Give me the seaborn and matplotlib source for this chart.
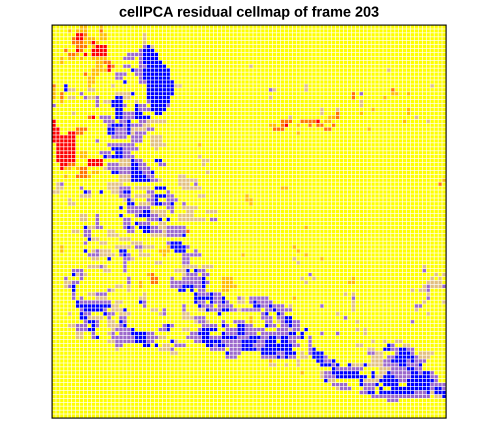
import numpy as np
import pandas as pd
import seaborn as sns
import matplotlib.pyplot as plt
from matplotlib.colors import ListedColormap

# (row, first col, last col) of flagged cells, everything else is level 0
red_runs = [
    (2, 6, 7), (3, 6, 7), (4, 10, 10), (5, 11, 13), (6, 6, 6), (6, 10, 13), (7, 8, 8), (7, 10, 13), (10, 14, 14), (11, 14, 14),
    (23, 10, 10), (24, 0, 0), (25, 0, 0), (26, 0, 1), (27, 0, 1), (27, 4, 5), (28, 0, 5), (29, 0, 5), (30, 1, 5),
    (31, 1, 5), (32, 1, 5), (33, 1, 5), (34, 1, 5), (34, 9, 12), (35, 2, 3), (35, 9, 12), (36, 2, 2),
    (24, 67, 67), (25, 59, 59),
]
orange_runs = [
    (1, 12, 12), (2, 8, 8), (3, 5, 5), (4, 5, 7), (5, 6, 8), (6, 3, 3), (6, 7, 7), (7, 4, 5), (9, 13, 14), (10, 15, 15),
    (12, 8, 8), (23, 9, 9), (26, 6, 8), (27, 6, 7), (35, 4, 5), (36, 7, 8), (37, 7, 8), (38, 6, 8),
    (17, 2, 2), (18, 2, 2), (15, 0, 0),
    (52, 34, 34), (64, 25, 26), (63, 25, 25), (65, 25, 26),
    (17, 76, 76), (18, 76, 76), (16, 86, 86), (24, 58, 60), (25, 58, 58), (26, 56, 58), (24, 63, 66), (25, 65, 65),
    (25, 67, 68), (26, 69, 70), (25, 71, 71), (22, 72, 72), (23, 72, 72), (40, 98, 98),
]
light_runs = [
    (0, 7, 8), (0, 12, 12), (1, 4, 4), (1, 6, 8), (2, 12, 13), (3, 8, 10), (3, 12, 13), (4, 8, 9), (4, 11, 11), (5, 10, 10),
    (7, 6, 6), (8, 4, 5), (8, 7, 7), (8, 10, 13), (9, 11, 12), (10, 11, 12), (11, 10, 13), (12, 10, 11), (13, 9, 10),
    (14, 9, 10), (15, 9, 9), (8, 2, 2), (9, 2, 2), (16, 0, 0), (17, 0, 0), (18, 0, 0), (19, 2, 2),
    (32, 7, 8), (33, 7, 8), (36, 3, 4), (36, 6, 6), (37, 10, 11), (38, 3, 3), (38, 9, 9), (30, 37, 37), (44, 49, 49),
    (56, 2, 2), (57, 2, 2), (56, 29, 30), (57, 27, 29), (58, 28, 28), (62, 36, 36),
    (63, 24, 24), (65, 22, 22), (66, 22, 22), (65, 43, 45), (66, 43, 46), (64, 43, 45), (67, 43, 44),
    (22, 78, 78), (21, 81, 81), (18, 84, 84), (17, 86, 87), (17, 90, 90), (21, 90, 90), (22, 90, 90), (24, 89, 89),
    (25, 55, 56), (25, 62, 62), (27, 62, 62), (24, 69, 70), (23, 70, 71), (26, 80, 80), (41, 58, 59), (43, 49, 49),
    (44, 50, 50), (45, 50, 50), (39, 99, 99), (51, 64, 64), (56, 61, 61), (57, 62, 62), (58, 64, 64), (58, 48, 48),
    (59, 68, 68), (65, 75, 75), (64, 76, 76), (65, 76, 76), (69, 61, 61),
    (74, 50, 50), (75, 50, 50), (85, 55, 55), (88, 63, 63), (69, 47, 47),
]
tan_runs = [
    (2, 23, 23), (3, 23, 23), (4, 23, 23), (5, 24, 25), (15, 31, 32), (15, 15, 15), (16, 4, 5), (16, 9, 10),
    (17, 16, 19), (18, 4, 5), (18, 9, 10), (18, 17, 19), (19, 13, 14), (19, 21, 21), (21, 26, 27), (22, 5, 5),
    (24, 24, 28), (25, 21, 24), (26, 17, 23), (27, 17, 20), (28, 25, 27), (29, 25, 27), (30, 25, 28), (31, 26, 26),
    (33, 37, 37), (34, 17, 19), (34, 38, 39), (35, 17, 19), (35, 38, 38), (36, 13, 14), (36, 23, 24), (37, 39, 39),
    (38, 17, 19), (38, 32, 33), (39, 17, 19), (39, 25, 27), (39, 32, 36), (40, 1, 1), (40, 14, 17), (40, 32, 34),
    (41, 1, 2), (41, 14, 16), (41, 21, 24), (41, 33, 37), (42, 0, 1), (42, 15, 16), (43, 7, 9), (43, 21, 24),
    (43, 37, 38), (44, 4, 4), (44, 18, 20), (45, 4, 5), (45, 22, 24), (46, 21, 24), (46, 33, 36), (47, 25, 28),
    (47, 34, 35), (47, 39, 41), (48, 7, 8), (48, 25, 28), (48, 32, 35), (49, 7, 8), (49, 32, 38),
    (10, 50, 50), (11, 85, 85), (16, 56, 56), (18, 55, 55), (15, 64, 64), (16, 64, 64), (19, 78, 78), (20, 78, 78),
    (23, 92, 92), (24, 95, 95), (15, 96, 96), (23, 60, 60), (21, 72, 72), (21, 68, 68), (22, 68, 68),
    (50, 27, 28), (51, 9, 10), (51, 25, 28), (52, 5, 6), (52, 14, 15), (52, 26, 28), (53, 8, 9), (53, 14, 16), (53, 25, 30),
    (54, 9, 11), (54, 17, 19), (55, 12, 13), (55, 20, 22), (56, 16, 19), (56, 23, 25), (57, 10, 14), (57, 22, 22),
    (58, 12, 15), (58, 22, 24), (59, 10, 11), (59, 19, 20), (60, 26, 27), (61, 9, 13), (61, 33, 36), (61, 38, 40),
    (62, 13, 14), (62, 31, 33), (63, 6, 8), (63, 33, 35), (64, 3, 3), (65, 3, 6), (66, 3, 3), (66, 16, 17), (66, 19, 19),
    (67, 19, 19), (67, 14, 15), (68, 9, 12), (68, 23, 23), (69, 11, 13), (69, 22, 23), (70, 16, 17), (70, 23, 23),
    (71, 15, 16), (71, 44, 45), (72, 15, 17), (72, 37, 38), (72, 25, 26), (73, 4, 4), (73, 17, 19), (73, 27, 27),
    (73, 33, 34), (74, 9, 12), (74, 33, 35), (75, 14, 15), (75, 36, 39), (76, 14, 17), (76, 4, 5), (77, 15, 15),
    (77, 33, 34), (78, 14, 15), (78, 6, 7), (79, 6, 7), (79, 26, 28), (80, 14, 15), (80, 30, 31), (81, 28, 29),
    (82, 16, 16), (82, 27, 29), (83, 30, 31),
    (69, 48, 48), (70, 47, 48), (72, 47, 48), (71, 60, 60), (75, 57, 61), (76, 61, 62), (77, 60, 61),
    (80, 81, 81), (80, 84, 84), (80, 87, 88), (81, 77, 78),
    (82, 80, 81), (83, 82, 83), (84, 81, 83), (85, 81, 85), (86, 76, 78), (86, 80, 83), (87, 83, 85), (88, 83, 84),
    (89, 82, 83), (90, 79, 82), (85, 92, 94), (84, 92, 95), (83, 93, 96), (81, 89, 90), (86, 55, 56), (86, 59, 59),
    (85, 62, 62), (86, 62, 62), (84, 63, 64), (83, 63, 63), (88, 68, 68), (89, 68, 69), (91, 71, 72), (92, 72, 74),
    (90, 70, 71), (93, 95, 96), (94, 97, 98),
    (59, 61, 61), (60, 62, 62), (64, 63, 63), (64, 66, 66), (65, 64, 64), (68, 74, 74), (68, 76, 76), (70, 76, 76),
    (71, 76, 76), (72, 76, 76), (73, 72, 72), (75, 77, 77), (77, 77, 77), (77, 79, 79), (78, 79, 79), (61, 94, 94),
    (63, 97, 97), (63, 99, 99), (64, 96, 96), (64, 98, 98), (65, 95, 98), (66, 94, 94), (66, 96, 98), (67, 91, 91),
    (67, 93, 94), (68, 95, 95), (70, 94, 94), (70, 99, 99), (72, 92, 92), (73, 95, 95),
]
purple_runs = [
    (5, 23, 23), (6, 22, 22), (7, 19, 21), (7, 22, 22), (8, 18, 20), (8, 22, 22), (9, 22, 22), (10, 18, 19), (10, 22, 23),
    (11, 21, 23), (12, 16, 18), (12, 21, 22), (13, 16, 17), (13, 22, 23), (14, 22, 23), (15, 30, 30), (17, 7, 7),
    (18, 8, 8), (18, 11, 11), (19, 11, 11), (19, 24, 25), (20, 0, 0), (20, 11, 11), (20, 18, 18), (20, 22, 23),
    (20, 26, 29), (21, 22, 24), (21, 27, 27), (22, 18, 20), (23, 12, 14), (23, 18, 20), (24, 13, 15), (24, 17, 18),
    (24, 22, 23), (25, 14, 14), (25, 18, 18), (25, 20, 22), (26, 16, 18), (26, 24, 25), (27, 16, 18), (27, 21, 23),
    (28, 15, 18), (28, 20, 22), (29, 11, 11), (29, 20, 22), (30, 14, 20), (31, 18, 21), (32, 12, 14), (32, 18, 19),
    (33, 14, 14), (33, 18, 20), (34, 21, 22), (35, 14, 16), (35, 22, 23), (35, 27, 28), (36, 14, 19), (36, 22, 24),
    (37, 17, 19), (37, 23, 24), (38, 24, 25), (39, 25, 26), (40, 36, 36), (40, 2, 2), (41, 7, 7), (41, 17, 19),
    (42, 9, 9), (42, 17, 17), (42, 24, 25), (42, 29, 29), (43, 17, 19), (43, 25, 25), (43, 29, 30), (44, 29, 31),
    (44, 24, 25), (45, 25, 25), (45, 28, 29), (45, 33, 33), (46, 19, 24), (46, 29, 30), (47, 19, 22), (47, 30, 30),
    (48, 11, 11), (48, 21, 21), (48, 25, 26), (49, 11, 11), (49, 18, 19), (49, 24, 26), (49, 40, 41), (50, 18, 19),
    (50, 22, 24), (50, 11, 11), (51, 11, 12), (51, 18, 20), (51, 23, 26), (51, 29, 33), (52, 8, 9), (52, 19, 20), (52, 25, 27),
    (52, 29, 33), (53, 29, 32), (53, 8, 9), (55, 8, 8), (55, 29, 30), (56, 21, 22), (56, 34, 34), (57, 11, 11), (57, 36, 36),
    (58, 9, 11), (58, 17, 19), (58, 33, 37), (59, 18, 19), (59, 33, 34), (60, 18, 18), (60, 33, 34), (61, 12, 12),
    (61, 18, 18), (62, 5, 7), (62, 18, 18), (62, 34, 34), (62, 37, 38), (63, 7, 7), (63, 34, 36), (63, 38, 39),
    (64, 7, 7), (64, 3, 3), (64, 19, 19), (64, 30, 30), (64, 33, 38), (65, 5, 6), (65, 19, 19), (65, 30, 39),
    (66, 4, 4), (66, 30, 32), (66, 36, 37), (67, 14, 14), (67, 37, 38), (68, 5, 5), (68, 11, 13), (68, 37, 39),
    (68, 41, 42), (69, 5, 5), (69, 7, 7), (69, 40, 42), (70, 7, 14), (70, 23, 23), (70, 37, 38), (70, 41, 44),
    (71, 7, 7), (71, 23, 23), (71, 33, 33), (71, 37, 40), (71, 42, 45), (72, 7, 7), (72, 13, 13), (72, 28, 28),
    (72, 33, 33), (72, 40, 42), (72, 45, 46), (73, 8, 9), (73, 14, 15), (73, 28, 28), (74, 14, 14), (74, 17, 18),
    (74, 36, 38), (75, 8, 8), (75, 11, 11), (75, 18, 18), (75, 37, 38), (75, 43, 43), (75, 46, 48), (76, 6, 8),
    (76, 11, 11), (76, 17, 17), (76, 30, 30), (76, 28, 28), (76, 38, 41), (76, 44, 44), (76, 49, 50),
    (77, 6, 8), (77, 16, 19), (77, 27, 28), (77, 37, 37), (77, 44, 46), (77, 49, 49), (78, 10, 10), (78, 15, 15), (78, 17, 19),
    (78, 24, 25), (78, 35, 36), (78, 44, 46), (78, 49, 51), (79, 10, 10), (79, 15, 20), (79, 24, 26), (79, 34, 37),
    (79, 40, 42), (79, 47, 48), (80, 16, 20), (80, 24, 25), (80, 36, 37), (80, 43, 47), (81, 16, 17), (81, 31, 33),
    (81, 41, 41), (81, 44, 47), (82, 30, 30), (82, 40, 43), (82, 45, 47), (83, 45, 47), (84, 44, 46),
    (69, 47, 47), (69, 50, 54), (70, 50, 50), (70, 52, 55), (71, 53, 54), (71, 56, 58), (72, 48, 52), (72, 54, 55), (72, 57, 60),
    (73, 53, 54), (73, 58, 58), (74, 53, 55), (74, 57, 58), (75, 54, 55), (75, 58, 58), (75, 61, 62), (76, 48, 50),
    (76, 55, 56), (76, 58, 59), (76, 61, 62), (77, 48, 53), (77, 57, 59), (77, 61, 62), (78, 47, 49), (78, 53, 59),
    (79, 47, 49), (79, 53, 54), (79, 57, 57), (79, 60, 62), (80, 46, 47), (80, 52, 53), (80, 60, 61), (81, 46, 47), (81, 51, 53),
    (81, 61, 62), (82, 50, 50), (82, 52, 52), (83, 57, 58), (84, 53, 56), (84, 58, 58), (84, 60, 61), (79, 65, 65),
    (80, 65, 65), (81, 65, 65), (82, 65, 65), (83, 65, 65), (84, 69, 69), (85, 69, 70), (86, 71, 72), (87, 72, 78),
    (88, 69, 70), (89, 69, 71), (91, 71, 74), (92, 73, 75), (91, 79, 81), (92, 79, 81), (93, 78, 79), (94, 81, 92),
    (95, 85, 87), (93, 92, 94), (94, 93, 95), (92, 96, 96), (92, 99, 99), (91, 96, 99), (90, 97, 97), (89, 96, 97),
    (88, 93, 96), (87, 92, 93), (86, 90, 93), (85, 90, 94), (84, 85, 87), (84, 92, 92), (83, 87, 91), (83, 80, 81), (82, 85, 87), (82, 90, 91),
    (81, 86, 86), (88, 85, 90), (89, 87, 90), (90, 88, 89), (87, 86, 89), (86, 84, 87), (85, 84, 85),
    (16, 55, 55), (17, 78, 78), (63, 65, 65), (69, 76, 76), (71, 68, 68), (74, 74, 74), (78, 72, 72), (78, 68, 68),
    (62, 94, 94), (66, 95, 95), (66, 99, 99), (67, 95, 95), (69, 95, 95), (71, 92, 93), (75, 91, 91),
]
blue_runs = [
    (5, 24, 24), (6, 23, 25), (7, 23, 26), (8, 23, 26), (9, 23, 27), (10, 24, 28), (11, 23, 29), (12, 23, 29),
    (13, 23, 29), (14, 24, 30), (15, 24, 30), (16, 24, 30), (17, 24, 30), (18, 24, 29), (19, 25, 29), (20, 25, 28),
    (21, 25, 27), (22, 26, 27), (21, 28, 28), (11, 20, 20), (14, 18, 18), (15, 3, 3), (16, 3, 3), (17, 20, 20),
    (18, 16, 17), (19, 15, 17), (20, 15, 17), (21, 16, 17), (22, 16, 17), (23, 16, 17), (20, 21, 21), (21, 21, 21),
    (22, 21, 22), (23, 21, 24), (24, 19, 19), (25, 15, 17), (25, 19, 19), (26, 14, 15), (26, 19, 19), (27, 14, 15),
    (27, 19, 19), (31, 15, 17), (32, 16, 17), (33, 13, 13), (33, 15, 17), (34, 20, 20), (34, 26, 27), (35, 20, 21),
    (36, 20, 21), (37, 15, 16), (37, 20, 22), (37, 25, 25), (38, 20, 23), (39, 20, 24), (41, 26, 28), (42, 8, 8),
    (42, 12, 12), (42, 18, 19), (43, 26, 28), (44, 19, 19), (44, 26, 26), (45, 19, 20), (45, 26, 27), (45, 30, 30),
    (46, 17, 17), (47, 23, 24), (48, 17, 17), (48, 22, 24), (49, 27, 27), (49, 29, 29),
    (50, 21, 21), (51, 8, 8), (51, 19, 19), (51, 22, 24), (52, 23, 24), (53, 33, 33), (54, 9, 9), (55, 30, 32),
    (56, 30, 33), (57, 8, 8), (57, 17, 18), (57, 31, 33), (58, 18, 18), (59, 14, 14), (62, 34, 34), (62, 36, 36),
    (63, 5, 5), (64, 38, 38), (65, 38, 38), (66, 5, 5), (66, 33, 34), (66, 35, 35), (66, 38, 38), (67, 5, 5),
    (67, 32, 33), (67, 35, 35), (68, 36, 36), (68, 40, 40), (69, 36, 39), (69, 40, 40), (69, 43, 43), (70, 6, 6),
    (70, 22, 22), (70, 36, 36), (70, 40, 40), (70, 43, 43), (71, 6, 14), (71, 37, 37), (72, 8, 12), (72, 18, 18),
    (72, 39, 39), (72, 43, 44), (73, 7, 7), (73, 13, 13), (73, 42, 42), (74, 7, 8), (75, 9, 10), (75, 17, 17),
    (76, 10, 10), (76, 18, 18), (76, 29, 29), (76, 43, 43), (76, 47, 48), (77, 9, 10), (77, 20, 20), (77, 29, 29),
    (77, 38, 41), (77, 47, 48), (78, 20, 23), (78, 37, 39), (78, 43, 43), (78, 47, 48), (79, 11, 11), (79, 21, 23),
    (79, 38, 39), (79, 43, 46), (80, 21, 23), (80, 30, 30), (80, 38, 42), (80, 49, 50), (81, 23, 24), (81, 26, 26),
    (81, 39, 40), (81, 42, 43), (81, 50, 50), (82, 50, 50), (83, 44, 44),
    (70, 51, 51), (71, 51, 52), (71, 55, 55), (72, 56, 56), (73, 54, 54), (73, 57, 57), (74, 59, 60), (75, 59, 60),
    (76, 54, 54), (76, 60, 60), (78, 60, 61), (78, 63, 63), (79, 50, 52), (79, 55, 56), (79, 58, 59), (79, 63, 63),
    (77, 64, 64), (80, 48, 51), (80, 54, 56), (80, 58, 59), (81, 48, 50), (81, 54, 57), (81, 58, 60), (82, 48, 49),
    (82, 51, 51), (82, 53, 57), (82, 58, 60), (83, 53, 56), (83, 59, 61), (84, 57, 57), (84, 59, 59),
    (82, 66, 66), (83, 66, 68), (84, 66, 68), (85, 67, 68), (85, 71, 71), (86, 68, 70), (86, 72, 72), (86, 75, 75),
    (86, 79, 79), (87, 71, 71), (88, 71, 77), (88, 81, 81), (89, 72, 79), (89, 81, 81), (90, 69, 69), (90, 78, 78),
    (90, 83, 83), (91, 78, 78), (91, 82, 82), (92, 83, 83),
    (81, 85, 85), (82, 84, 85), (82, 88, 89), (83, 88, 90), (84, 87, 91), (85, 86, 89), (85, 91, 91), (86, 88, 89),
    (86, 93, 93), (87, 90, 91), (88, 85, 85), (88, 91, 92), (88, 94, 95), (89, 84, 86), (89, 91, 95), (90, 84, 87),
    (90, 90, 96), (91, 84, 87), (91, 90, 95), (92, 86, 89), (92, 90, 95), (92, 97, 98), (93, 80, 81), (93, 83, 91),
    (93, 95, 95), (93, 97, 99), (94, 99, 99),
]
n_rows = 100
n_cols = 100
level_colors = ['#0000ff', '#9c68cc', '#e2c080', '#ffff00', '#ffc000', '#ff7800', '#ff0000']

# later runs overwrite earlier ones, strongest flags last
grid = np.zeros((n_rows, n_cols), dtype=int)
for level, runs in [(-1, tan_runs), (1, light_runs), (2, orange_runs), (-2, purple_runs), (3, red_runs), (-3, blue_runs)]:
    for row, first, last in runs:
        grid[row, first:last + 1] = level
df = pd.DataFrame(grid)

plt.rcParams['font.family'] = ['Liberation Sans', 'DejaVu Sans']
scale = 6
fig = plt.figure(figsize=(4.8, 4.43), dpi=100 * scale)
ax = fig.add_axes([52 / 480, 1 - 418 / 443, 394 / 480, 393 / 443])
sns.heatmap(df, ax=ax, cmap=ListedColormap(level_colors), vmin=-3.5, vmax=3.5, cbar=False,
            linewidths=0.25, linecolor='#ffffff', xticklabels=False, yticklabels=False)
for side in ax.spines.values():
    side.set_visible(True)
    side.set_color('black')
    side.set_linewidth(0.8)
ax.tick_params(length=0)
ax.set_title('cellPCA residual cellmap of frame 203', fontsize=10.4, fontweight='bold', pad=6)

# draw big and average down, otherwise the thin cell borders alias into bands
fig.canvas.draw()
big = np.asarray(fig.canvas.buffer_rgba())[:, :, :3].astype(float)
h = big.shape[0] // scale
w = big.shape[1] // scale
small = big[:h * scale, :w * scale].reshape(h, scale, w, scale, 3).mean(axis=(1, 3))
plt.imsave('out.png', small.round().astype(np.uint8))
